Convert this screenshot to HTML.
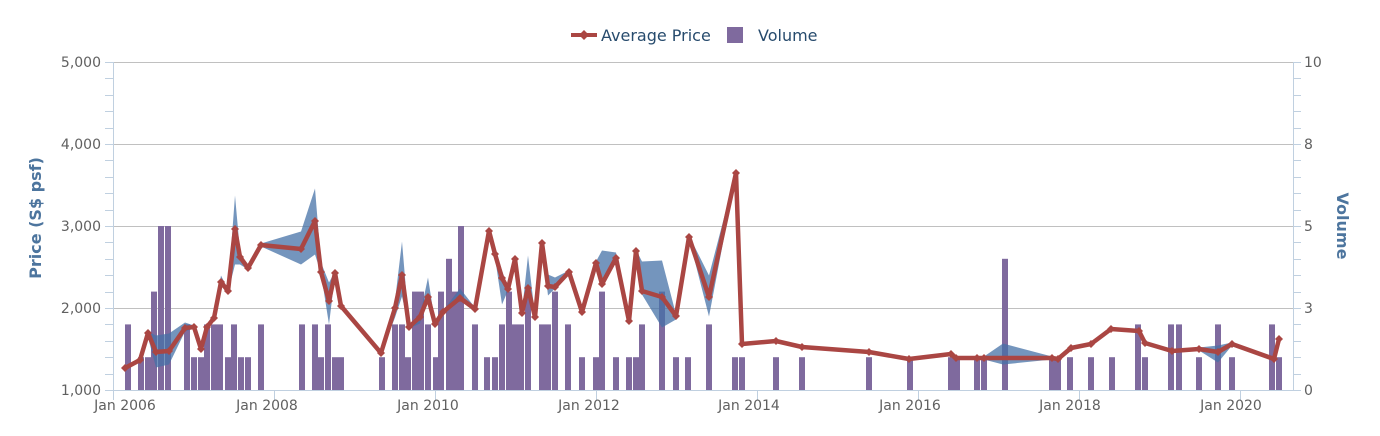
<!DOCTYPE html>
<html><head><meta charset="utf-8"><style>
body{margin:0;background:#fff;width:1380px;height:436px;overflow:hidden}
svg{display:block;font-family:"DejaVu Sans","Liberation Sans",sans-serif}
</style></head><body>
<svg id="c" width="1380" height="436" xmlns="http://www.w3.org/2000/svg">
<g id="grid" stroke="#c0c0c0" stroke-width="1">
<line x1="113" x2="1293" y1="62.5" y2="62.5"/><line x1="113" x2="1293" y1="144.5" y2="144.5"/>
<line x1="113" x2="1293" y1="226.5" y2="226.5"/><line x1="113" x2="1293" y1="308.5" y2="308.5"/>
</g>
<g id="ticks" stroke="#c0d0e0" stroke-width="1"></g>
<g id="bars" fill="#7f6a9e"></g>
<path id="band" fill="#4572a7" fill-opacity="0.75"/>
<path id="line" fill="none" stroke="#aa4643" stroke-width="4.5" stroke-linejoin="round"/>
<g id="marks" fill="#aa4643"></g>
<line x1="113" x2="1293" y1="390.5" y2="390.5" stroke="#c0d0e0"/>
<line x1="113.5" x2="113.5" y1="62" y2="390" stroke="#c0d0e0"/>
<line x1="1293.5" x2="1293.5" y1="62" y2="390" stroke="#c0d0e0"/>
<g font-size="14" fill="#606060" text-anchor="end">
<text x="101" y="67">5,000</text><text x="101" y="149">4,000</text><text x="101" y="231">3,000</text><text x="101" y="313">2,000</text><text x="101" y="395">1,000</text>
</g>
<g font-size="14" fill="#606060" text-anchor="start">
<text x="1304" y="67">10</text><text x="1304" y="149">8</text><text x="1304" y="231">5</text><text x="1304" y="313">3</text><text x="1304" y="395">0</text>
</g>
<g font-size="14" fill="#606060" text-anchor="middle">
<text x="125" y="410">Jan 2006</text><text x="267" y="410">Jan 2008</text><text x="428" y="410">Jan 2010</text><text x="589" y="410">Jan 2012</text><text x="749" y="410">Jan 2014</text><text x="910" y="410">Jan 2016</text><text x="1070" y="410">Jan 2018</text><text x="1231" y="410">Jan 2020</text>
</g>
<text transform="translate(41,218) rotate(-90)" text-anchor="middle" font-size="16" font-weight="bold" fill="#4d759e">Price (S$ psf)</text>
<text transform="translate(1337,226) rotate(90)" text-anchor="middle" font-size="16" font-weight="bold" fill="#4d759e">Volume</text>
<g>
<line x1="571" x2="597" y1="35" y2="35" stroke="#aa4643" stroke-width="4"/>
<path d="M584 30 L589 35 L584 40 L579 35Z" fill="#aa4643"/>
<text x="601" y="41" font-size="16" fill="#274b6d">Average Price</text>
<rect x="727" y="27" width="16" height="16" fill="#7f6a9e"/>
<text x="758" y="41" font-size="16" fill="#274b6d">Volume</text>
</g>
</svg>
<script>
var NS="http://www.w3.org/2000/svg";
function el(p,t,a){var e=document.createElementNS(NS,t);for(var k in a)e.setAttribute(k,a[k]);document.getElementById(p).appendChild(e);}
for(var y=62;y<=390;y+=16.4){el("ticks","line",{x1:105,x2:113,y1:Math.round(y)+.5,y2:Math.round(y)+.5});el("ticks","line",{x1:1293,x2:1301,y1:Math.round(y)+.5,y2:Math.round(y)+.5});}
[113,274,435,596,757,918,1079,1240].forEach(function(x){el("ticks","line",{x1:x+.5,x2:x+.5,y1:390,y2:400});});
var B=[[128,2],[141,1],[148,1],[154,3],[161,5],[168,5],[187,2],[194,1],[201,1],[207,2],[214,2],[220,2],[228,1],[234,2],[241,1],[248,1],[261,2],[302,2],[315,2],[321,1],[328,2],[335,1],[341,1],[382,1],[395,2],[402,2],[408,1],[415,3],[421,3],[428,2],[436,1],[441,3],[449,4],[455,3],[461,5],[475,2],[487,1],[495,1],[502,2],[509,3],[515,2],[521,2],[528,3],[542,2],[548,2],[555,3],[568,2],[582,1],[596,1],[602,3],[616,1],[629,1],[636,1],[642,2],[662,3],[676,1],[688,1],[709,2],[735,1],[742,1],[776,1],[802,1],[869,1],[910,1],[951,1],[957,1],[977,1],[984,1],[1005,4],[1052,1],[1058,1],[1070,1],[1091,1],[1112,1],[1138,2],[1145,1],[1171,2],[1179,2],[1199,1],[1218,2],[1232,1],[1272,2],[1279,1]];
B.forEach(function(b){var h=b[1]*32.8;el("bars","rect",{x:b[0]-3,y:390-h,width:6,height:h});});
var P=[[125,368,0,0],[140,360,0,0],[148,333,0,3],[156,352,15,14],[169,351,16,12],[185,328,4,2],[194,327,0,0],[201,349,0,0],[207,327,0,0],[214,318,0,0],[221,282,5,2],[228,291,0,0],[235,229,32,34],[240,257,4,6],[248,268,0,0],[261,245,0,0],[301,249,16,14],[315,221,31,32],[321,272,8,0],[329,301,17,22],[335,273,0,0],[341,306,0,0],[381,353,0,0],[395,308,6,8],[402,275,32,20],[409,327,0,0],[420,317,0,5],[428,297,18,0],[435,324,0,0],[443,312,0,0],[460,298,8,0],[475,309,0,0],[489,231,0,0],[495,254,4,2],[502,278,6,25],[508,289,0,0],[515,259,0,0],[522,313,0,0],[528,288,31,0],[535,317,0,0],[542,243,0,0],[548,286,10,8],[555,287,8,0],[569,272,0,0],[582,312,0,0],[596,263,0,0],[602,284,32,0],[616,258,4,0],[629,321,0,0],[636,251,0,0],[642,291,28,2],[662,297,35,29],[676,316,0,2],[689,237,0,0],[709,297,20,18],[736,173,0,0],[742,344,0,0],[776,341,0,0],[802,347,0,0],[869,352,0,0],[909,359,0,0],[951,354,0,0],[956,358,0,0],[977,358,0,0],[984,358,0,0],[1003,357,12,6],[1052,358,0,0],[1058,359,0,0],[1071,348,0,0],[1091,344,0,0],[1111,329,0,0],[1139,331,0,0],[1145,343,0,0],[1172,351,0,0],[1199,349,0,0],[1218,352,5,9],[1232,344,0,0],[1274,359,0,0],[1279,339,0,0]];
var d="",up="";
P.forEach(function(p,i){if(p[0]!=1003){d+=(d?"L":"M")+p[0]+" "+p[1];}
up+=(i?"L":"M")+p[0]+" "+(p[1]-p[2]-1.5);});
for(var i=P.length-1;i>=0;i--){var p=P[i];up+="L"+p[0]+" "+(p[1]+p[3]+1.5);}
document.getElementById("band").setAttribute("d",up+"Z");
document.getElementById("line").setAttribute("d",d);
P.forEach(function(p){if(p[0]==1003)return;el("marks","path",{d:"M"+p[0]+" "+(p[1]-4)+"L"+(p[0]+4)+" "+p[1]+"L"+p[0]+" "+(p[1]+4)+"L"+(p[0]-4)+" "+p[1]+"Z"});});
</script>
</body></html>
